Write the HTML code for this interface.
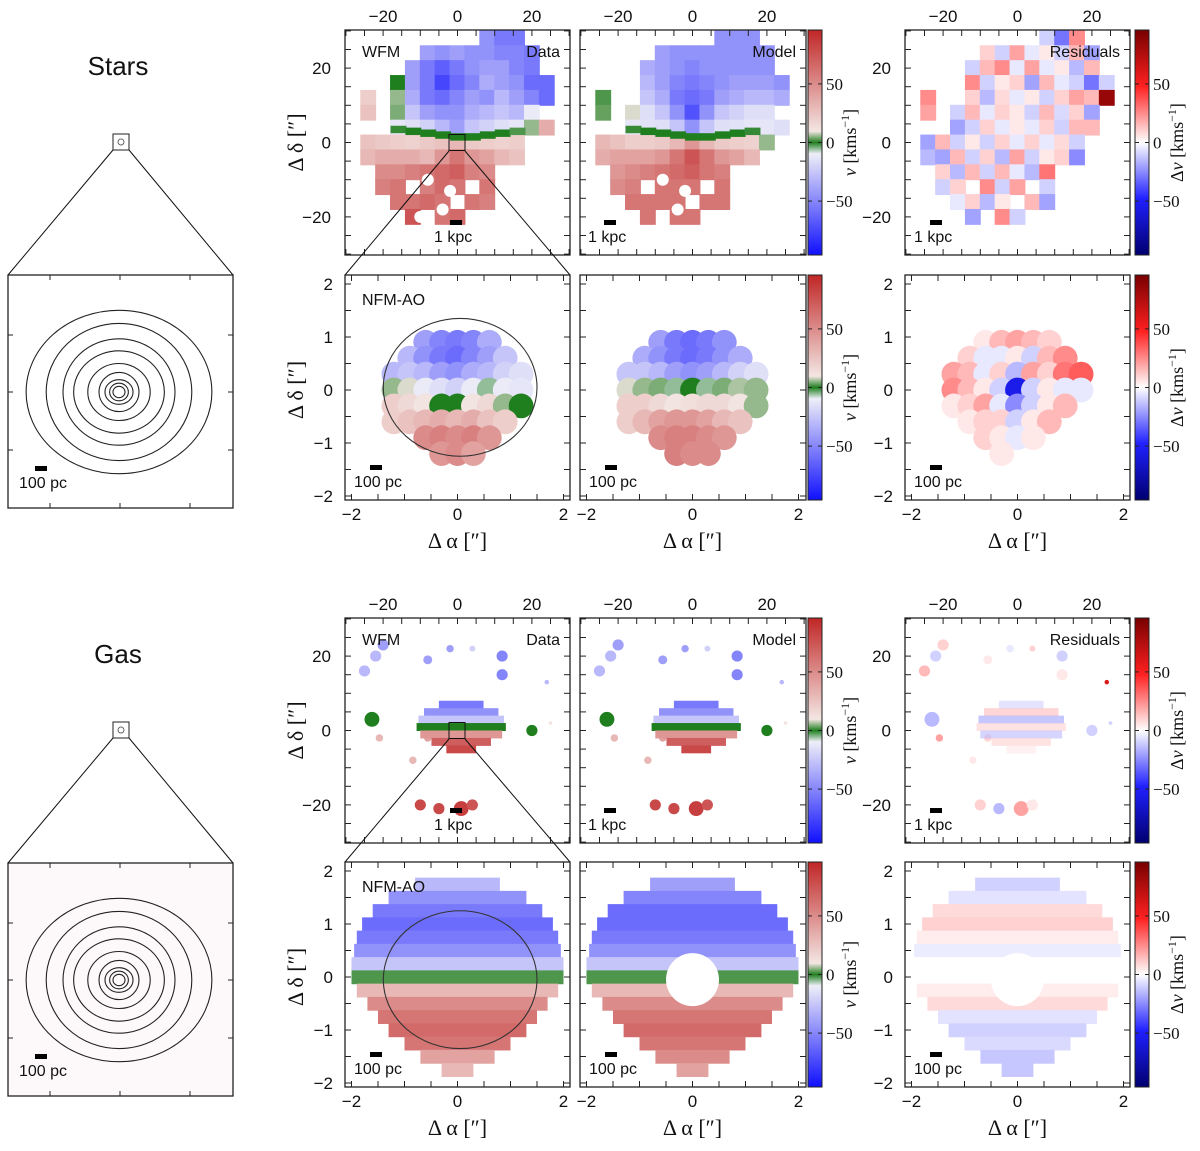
<!DOCTYPE html>
<html><head><meta charset="utf-8">
<style>
html,body{margin:0;padding:0;background:#fff;}
svg{display:block;}
text{font-family:"Liberation Sans","DejaVu Sans",sans-serif;}
.serif{font-family:"Liberation Serif","DejaVu Serif",serif;}
</style></head>
<body>
<svg id="fig" xmlns="http://www.w3.org/2000/svg" width="1200" height="1151" viewBox="0 0 1200 1151">
<defs>
<linearGradient id="cbV" x1="0" y1="1" x2="0" y2="0">
<stop offset="0" stop-color="#1010ff"/><stop offset="0.45" stop-color="#eeeef8"/><stop offset="0.5" stop-color="#1f7f1f"/><stop offset="0.55" stop-color="#f3e6e3"/><stop offset="1" stop-color="#c02626"/>
</linearGradient>
<linearGradient id="cbR" x1="0" y1="1" x2="0" y2="0">
<stop offset="0" stop-color="#000070"/><stop offset="0.25" stop-color="#2020ff"/><stop offset="0.5" stop-color="#ffffff"/><stop offset="0.75" stop-color="#ff2020"/><stop offset="1" stop-color="#780000"/>
</linearGradient>
</defs>
</svg>
<script>
// ---------------- data ----------------
const wfmGridX = [-24,-20,-16,-12,-8,-4,0,4,8,12,16,20,24];
const starWfmRowsY = [28,24,20,16,12,8,4,0,-4,-8,-12,-16,-20];
const starWfmData = [
 [null,null,null,null,null,null,null,null,-45,-55,-55,null,null],
 [null,null,null,null,-40,-45,-40,-45,-45,-50,-50,-55,null],
 [null,null,null,-40,-55,-65,-55,-45,-40,-40,-50,-55,null],
 [null,null,0,-40,-55,-75,-60,-50,-35,-40,-45,-60,-60],
 [20,null,5,-35,-55,-60,-50,-40,-45,-30,-40,-50,-60],
 [25,null,4,-25,-40,-45,-45,-35,-30,-25,-30,-10,null],
 [null,null,-12,-15,-20,-30,-40,-25,-20,-15,-12,5,35],
 [25,22,20,18,22,25,30,22,20,18,20,null,null],
 [30,35,35,35,30,45,60,45,40,30,25,null,null],
 [null,50,50,55,60,65,70,55,50,null,null,null,null],
 [null,55,60,null,55,65,60,null,60,null,null,null,null],
 [null,null,60,60,65,60,null,60,55,null,null,null,null],
 [null,null,null,75,null,60,65,null,null,null,null,null,null]
];
const starWfmModel = [
 [null,null,null,null,null,null,null,null,-45,-45,-45,null,null],
 [null,null,null,null,-40,-45,-45,-45,-45,-45,-45,-45,null],
 [null,null,null,-35,-40,-45,-50,-45,-45,-45,-45,-45,null],
 [null,null,null,-30,-40,-50,-55,-50,-45,-40,-40,-40,-45],
 [2,null,null,-25,-35,-55,-60,-55,-40,-35,-30,-30,-35],
 [3,null,8,-15,-25,-45,-70,-45,-25,-20,-15,-15,null],
 [null,null,-12,-14,-15,-25,-45,-25,-15,-14,-12,-12,-15],
 [30,25,20,20,22,30,45,30,22,20,18,5,null],
 [35,40,40,40,45,60,75,60,45,40,30,null,null],
 [null,45,50,55,60,65,70,60,55,null,null,null,null],
 [null,50,55,null,60,60,60,null,60,null,null,null,null],
 [null,null,60,60,60,60,null,60,60,null,null,null,null],
 [null,null,null,60,null,60,60,null,null,null,null,null,null]
];
const starWfmResid = [
 [null,null,null,null,null,null,null,null,-10,-30,25,null,null],
 [null,null,null,null,10,-10,20,-5,5,-10,15,-20,null],
 [null,null,null,-10,15,25,-5,20,-5,5,-15,15,null],
 [null,null,null,25,-10,5,10,-20,15,-5,-10,-30,-10],
 [25,null,null,10,-15,8,-5,5,-10,10,20,15,85],
 [20,null,-10,15,-5,10,5,-10,15,-8,10,-20,null],
 [null,null,-20,-10,10,-5,5,-5,10,-10,15,15,null],
 [-20,15,-10,5,-10,10,-5,10,-5,8,-10,null,null],
 [-15,-20,15,-10,10,-15,20,-10,5,10,-25,null,null],
 [null,10,-15,15,-10,15,-5,-15,30,null,null,null,null],
 [null,-10,10,null,25,-10,20,null,-10,null,null,null,null],
 [null,null,-5,10,-15,5,null,15,-20,null,null,null,null],
 [null,null,null,-20,null,25,-10,null,null,null,null,null,null]
];
// thin green band near the kinematic minor axis (stars WFM)
const bandX = [-16,-12,-8,-4,0,4,8,12,16];
const bandY = [3.5,3,2.5,2,1.5,1.5,2,2.5,3];
const bandV = [1,0,0,0,0,0,0,0,2];
const bandModelV = [1,0,0,0,0,0,0,0,1];
const nfmGridX = [-1.2,-0.9,-0.6,-0.3,0,0.3,0.6,0.9,1.2];
const starNfmRowsY = [0.9,0.6,0.3,0,-0.3,-0.6,-0.9,-1.2];
const starNfmData = [
 [null,null,-40,-50,-55,-50,-35,null,null],
 [null,-30,-45,-55,-60,-50,-40,-25,null],
 [-30,-25,-30,-40,-45,-35,-30,-20,-15],
 [5,8,-10,-15,-20,-10,-5,-10,-12],
 [20,15,10,0,0,10,15,5,0],
 [20,25,30,35,30,35,25,20,null],
 [null,null,50,55,50,55,45,null,null],
 [null,null,null,45,50,40,null,null,null]
];
const starNfmModel = [
 [null,null,-40,-55,-60,-55,-45,null,null],
 [null,-35,-45,-55,-60,-55,-45,-35,null],
 [-25,-25,-30,-40,-45,-40,-30,-20,-15],
 [8,5,4,-5,0,-5,4,6,5],
 [20,20,15,10,12,15,15,10,5],
 [20,30,40,45,45,40,30,25,null],
 [null,null,50,55,55,50,45,null,null],
 [null,null,null,55,50,50,null,null,null]
];
const starNfmResid = [
 [null,null,5,15,20,15,10,null,null],
 [null,10,-5,-5,5,-10,15,25,null],
 [20,15,-5,10,-15,20,10,30,35],
 [25,15,5,-10,-55,-10,5,-5,-5],
 [5,10,20,-5,-25,-10,5,15,null],
 [null,5,10,10,-10,5,15,null,null],
 [null,null,10,5,-5,5,null,null,null],
 [null,null,null,5,null,null,null,null,null]
];
// gas WFM clumps (arcsec, km/s)
const gasClumpX = [-20,-22,-25,-8,-2,4,12,12,-23,-21,-8,-12,20,24,25,-10,-5,1,4];
const gasClumpY = [23,20,16,19,22,22,20,15,3,-2,-2,-8,0,13,2,-20,-21,-21,-20];
const gasClumpV = [-40,-30,-30,-40,-40,-20,-50,-50,0,30,40,30,0,-30,10,80,80,85,75];
const gasClumpResid = [10,-10,15,5,-5,10,-10,5,-15,20,10,5,-10,60,-10,10,-15,20,5];
const gasClumpR = [1.5,1.5,1.5,1.2,1,0.8,1.5,1.5,2,1,1,1,1.5,0.6,0.5,1.5,1.5,2,1.5];
const gasDiskY = [7,5,3,1,-1,-3,-5];
const gasDiskV = [-55,-45,-25,0,45,70,80];
const gasDiskResid = [-10,15,-20,10,-15,10,5];
const gasDiskHW = [6,10,11.5,12,11,8,4];
// gas NFM rows
const gasNfmY = [1.75,1.5,1.25,1.0,0.75,0.5,0.25,0,-0.25,-0.5,-0.75,-1,-1.25,-1.5,-1.75];
const gasNfmV = [-30,-45,-55,-60,-55,-45,-25,2,30,50,60,65,60,40,30];
const gasNfmModelV = [-40,-50,-60,-60,-55,-45,-25,2,30,50,60,65,60,50,40];
const gasNfmResid = [-10,-6,8,10,4,-4,0,0,4,8,-6,-10,-8,-12,-12];
const gasNfmHW = [0.8,1.3,1.6,1.8,1.9,1.95,2,2,1.9,1.7,1.5,1.3,1.0,0.7,0.3];
const contourR = [6,9,13,20,30,42,56,70,86];
// tick labels
const wfmTicks = [-20,0,20];
const nfmTicks = [-2,-1,0,1,2];
const nfmXTicks = [-2,0,2];
const cbTicks = [50,0,-50];

// ---------------- helpers ----------------
const svg = document.getElementById('fig');
const NS = 'http://www.w3.org/2000/svg';
function mk(tag, attrs, parent){ const e=document.createElementNS(NS,tag); for(const k in attrs) e.setAttribute(k,attrs[k]); (parent||svg).appendChild(e); return e; }
function lerp(a,b,t){return a+(b-a)*t;}
function hex(h){return [parseInt(h.slice(1,3),16),parseInt(h.slice(3,5),16),parseInt(h.slice(5,7),16)];}
function cmap(stops, v){
  if(v<=stops[0][0]) return 'rgb('+hex(stops[0][1])+')';
  for(let i=1;i<stops.length;i++){ if(v<=stops[i][0]){ const t=(v-stops[i-1][0])/(stops[i][0]-stops[i-1][0]); const a=hex(stops[i-1][1]),b=hex(stops[i][1]); return 'rgb('+[0,1,2].map(j=>Math.round(lerp(a[j],b[j],t))).join(',')+')'; } }
  return 'rgb('+hex(stops[stops.length-1][1])+')';
}
const vStops=[[-96,'#1010ff'],[-9,'#eeeef8'],[0,'#1f7f1f'],[9,'#f3e6e3'],[96,'#c02626']];
const rStops=[[-96,'#000070'],[-48,'#2020ff'],[0,'#ffffff'],[48,'#ff2020'],[96,'#780000']];
const colV = v=>cmap(vStops,v), colR = v=>cmap(rStops,v);

const cols=[{x:345,w:225,cx:457.5},{x:580,w:226,cx:692.5},{x:905,w:225,cx:1017.5}];
const sec=[0,588];
const WK=3.72, NK=53;

function panel(name, px, py, w, h){
  const g=mk('g',{});
  
  
  const clip=mk('clipPath',{id:'c'+name},svg.querySelector('defs'));
  mk('rect',{x:px,y:py,width:w,height:h},clip);
  const inner=mk('g',{'clip-path':'url(#c'+name+')'},g);
  return {g,inner};
}
function frame(g,px,py,w,h,xs,ys){
  mk('rect',{x:px,y:py,width:w,height:h,fill:'none',stroke:'#222','stroke-width':1.3},g);
  xs.forEach(x=>{ mk('line',{x1:x,y1:py,x2:x,y2:py+6,stroke:'#222'},g); mk('line',{x1:x,y1:py+h,x2:x,y2:py+h-6,stroke:'#222'},g); });
  ys.forEach(y=>{ mk('line',{x1:px,y1:y,x2:px+6,y2:y,stroke:'#222'},g); mk('line',{x1:px+w,y1:y,x2:px+w-6,y2:y,stroke:'#222'},g); });
}
function txt(g,x,y,s,attrs){ const t=mk('text',Object.assign({x:x,y:y,'font-size':16,fill:'#111'},attrs||{}),g); t.textContent=s; return t; }

function drawGrid(inner, rowsY, gridX, data, cx, cy, k, step, colf, circle){
  data.forEach((row,ri)=>row.forEach((v,ci)=>{
    if(v===null) return;
    const x=cx+gridX[ci]*k, y=cy-rowsY[ri]*k, s=step*k;
    let e;
    if(circle) e=mk('circle',{cx:x,cy:y,r:s*0.78,fill:colf(v)},inner);
    else e=mk('rect',{x:x-s/2-0.5,y:y-s/2-0.5,width:s+1,height:s+1,fill:colf(v)},inner);
    
    
  }));
}

function colorbar(x,y,h,grad,label){
  const g=mk('g',{});
  
  
  mk('rect',{x:x,y:y,width:14,height:h,fill:'url(#'+grad+')',stroke:'#222','stroke-width':1},g);
  const cyc=y+h/2, kk=h/2/96;
  cbTicks.forEach(v=>{ const ty=cyc-v*kk; mk('line',{x1:x,y1:ty,x2:x+4,y2:ty,stroke:'#222'},g); mk('line',{x1:x+14,y1:ty,x2:x+10,y2:ty,stroke:'#222'},g);
    txt(g,x+18,ty+6,v<0?'\u2212'+(-v):String(v),{class:'serif','font-size':17}); });
  const lx=x+48, ly=cyc;
  const t=txt(g,lx,ly,'',{class:'serif','font-size':18,transform:'rotate(-90 '+lx+' '+ly+')','text-anchor':'middle'});
  t.innerHTML=label;
}

function scalebar(g,x,y,lab){
  mk('rect',{x:x,y:y-2,width:12,height:5,fill:'#000'},g);
  txt(g,x-16,y+20,lab,{'font-size':16});
}

// ---------------- build ----------------
['Stars','Gas'].forEach((name,si)=>{
  const o=sec[si];
  const t=txt(svg,118,75+o,name,{'font-size':26,'text-anchor':'middle'});
  
  
  const ov=mk('g',{});
  
  
  mk('rect',{x:113,y:134+o,width:16,height:16,fill:'none',stroke:'#222'},ov);
  mk('circle',{cx:121,cy:142+o,r:3,fill:'none',stroke:'#666'},ov);
  mk('line',{x1:113,y1:150+o,x2:8,y2:275+o,stroke:'#111'},ov);
  mk('line',{x1:129,y1:150+o,x2:233,y2:275+o,stroke:'#111'},ov);
  const cp=mk('g',{});
  
  
  mk('rect',{x:8,y:275+o,width:225,height:233,fill:si?'#fdf9fa':'#fff',stroke:'#222','stroke-width':1.3},cp);
  contourR.forEach((r,i)=>{
    const c=mk('ellipse',{cx:119,cy:392+o,rx:r*(1+0.04*(i%3)),ry:r*(0.95+0.03*(i%2)),fill:'none',stroke:'#222','stroke-width':1.1},cp);
    
    
  });
  [[50,275],[120,275],[190,275],[50,508],[120,508],[190,508]].forEach(p=>mk('line',{x1:p[0],y1:p[1]+o,x2:p[0],y2:p[1]+o+(p[1]>300?-5:5),stroke:'#222'},cp));
  [[8,335],[8,392],[8,450],[233,335],[233,392],[233,450]].forEach(p=>mk('line',{x1:p[0],y1:p[1]+o,x2:p[0]+(p[0]<100?5:-5),y2:p[1]+o,stroke:'#222'},cp));
  scalebar(cp,35,468+o,'100 pc');

  const rowW=30+o, rowN=(si?862:275);
  cols.forEach((c,ci)=>{
    const kind=['data','model','residuals'][ci];
    const P=panel(name.toLowerCase()+'-wfm-'+kind, c.x,rowW,c.w,225);
    const cy=rowW+112.5;
    const colf=ci===2?colR:colV;
    if(si===0){
      drawGrid(P.inner,starWfmRowsY,wfmGridX,[starWfmData,starWfmModel,starWfmResid][ci],c.cx,cy,WK,4,colf,false);
      if(ci<2){
        const bv=ci===0?bandV:bandModelV;
        bandX.forEach((x,i)=>{ const e=mk('rect',{x:c.cx+(x-2)*WK,y:cy-(bandY[i]+1)*WK,width:4*WK+1,height:2*WK,fill:colV(bv[i])},P.inner);
            });
      }
      if(ci===0){
        [[-8,-10],[-2,-13],[-4,-18],[-10,-20]].forEach(h=>mk('circle',{cx:c.cx+h[0]*WK,cy:cy-h[1]*WK,r:6,fill:'#fff'},P.inner));
      }
      if(ci===1){ [[-8,-10],[-2,-13],[-4,-18]].forEach(h=>mk('circle',{cx:c.cx+h[0]*WK,cy:cy-h[1]*WK,r:6,fill:'#fff'},P.inner)); }
    } else {
      const vals=ci===2?gasClumpResid:gasClumpV;
      gasClumpX.forEach((x,i)=>{ const e=mk('circle',{cx:c.cx+x*WK,cy:cy-gasClumpY[i]*WK,r:gasClumpR[i]*WK,fill:colf(vals[i])},P.inner);
          });
      const dv=ci===2?gasDiskResid:gasDiskV;
      gasDiskY.forEach((y,i)=>{ const e=mk('rect',{x:c.cx+(1-gasDiskHW[i])*WK,y:cy-(y+1)*WK,width:2*gasDiskHW[i]*WK,height:2*WK+0.5,fill:colf(dv[i]),opacity:ci===2?0.6:1},P.inner);
          });
    }
    const xs=[], ys=[];
    for(let v=-30;v<=30;v+=5){ xs.push(c.cx+v*WK); ys.push(cy-v*WK); }
    frame(P.g,c.x,rowW,c.w,225,xs,ys);
    wfmTicks.forEach(v=>txt(svg,c.cx+v*WK,rowW-8,v<0?'\u2212'+(-v):String(v),{'text-anchor':'middle','font-size':17}));
    if(ci===0){ txt(P.g,c.x+17,rowW+27,'WFM'); txt(P.g,c.x+c.w-10,rowW+27,'Data',{'text-anchor':'end'}); scalebar(P.g,450,rowW+192,'1 kpc');
      wfmTicks.forEach(v=>txt(svg,c.x-14,cy-v*WK+6,v<0?'\u2212'+(-v):String(v),{'text-anchor':'end','font-size':17}));
      const yl=txt(svg,303,cy,'',{class:'serif','font-size':22,'text-anchor':'middle',transform:'rotate(-90 303 '+cy+')'}); yl.textContent='\u0394 \u03b4 [\u2033]';
      mk('rect',{x:449,y:cy-8,width:16,height:16,fill:'none',stroke:'#111'},P.g);
    }
    if(ci===1){ txt(P.g,c.x+c.w-10,rowW+27,'Model',{'text-anchor':'end'}); scalebar(P.g,604,rowW+192,'1 kpc'); }
    if(ci===2){ txt(P.g,c.x+c.w-10,rowW+27,'Residuals',{'text-anchor':'end'}); scalebar(P.g,930,rowW+192,'1 kpc');
      wfmTicks.forEach(v=>txt(svg,c.x-14,cy-v*WK+6,v<0?'\u2212'+(-v):String(v),{'text-anchor':'end','font-size':17})); }
  });
  colorbar(808,rowW,225,'cbV','<tspan font-style="italic">v</tspan> [kms<tspan dy="-7" font-size="12">\u22121</tspan><tspan dy="7">]</tspan>');
  colorbar(1135,rowW,225,'cbR','\u0394<tspan font-style="italic">v</tspan> [kms<tspan dy="-7" font-size="12">\u22121</tspan><tspan dy="7">]</tspan>');
  mk('line',{x1:449,y1:rowW+121,x2:345,y2:rowN,stroke:'#111'});
  mk('line',{x1:465,y1:rowW+121,x2:570,y2:rowN,stroke:'#111'});

  cols.forEach((c,ci)=>{
    const kind=['data','model','residuals'][ci];
    const P=panel(name.toLowerCase()+'-nfm-'+kind, c.x,rowN,c.w,225);
    const cy=rowN+115;
    const colf=ci===2?colR:colV;
    if(si===0){
      drawGrid(P.inner,starNfmRowsY,nfmGridX,[starNfmData,starNfmModel,starNfmResid][ci],c.cx,cy,NK,0.3,colf,true);
    } else {
      const vals=[gasNfmV,gasNfmModelV,gasNfmResid][ci];
      gasNfmY.forEach((y,i)=>{ const e=mk('rect',{x:c.cx-gasNfmHW[i]*NK,y:cy-(y+0.125)*NK,width:2*gasNfmHW[i]*NK,height:0.25*NK+0.6,fill:colf(vals[i])},P.inner);
          });
      if(ci>0) mk('circle',{cx:c.cx,cy:cy+0.05*NK,r:0.5*NK,fill:'#fff'},P.inner);
    }
    if(ci===0){
      const ol=mk('ellipse',{cx:c.cx+0.05*NK,cy:cy-(si?-0.05:0.05)*NK,rx:1.45*NK,ry:1.3*NK,fill:'none',stroke:'#333','stroke-width':1.1},P.inner);
       
    }
    const xs=[], ys=[];
    for(let v=-2;v<=2.01;v+=0.5){ xs.push(c.cx+v*NK); ys.push(cy-v*NK); }
    frame(P.g,c.x,rowN,c.w,225,xs,ys);
    scalebar(P.g,c.x+25,rowN+192,'100 pc');
    nfmXTicks.forEach(v=>txt(svg,c.cx+v*NK,rowN+245,v<0?'\u2212'+(-v):String(v),{'text-anchor':'middle','font-size':17}));
    const xl=txt(svg,c.cx,rowN+273,'\u0394 \u03b1 [\u2033]',{class:'serif','font-size':22,'text-anchor':'middle'});
     
    if(ci!==1) nfmTicks.forEach(v=>txt(svg,c.x-12,cy-v*NK+6,v<0?'\u2212'+(-v):String(v),{'text-anchor':'end','font-size':17}));
    if(ci===0){ txt(P.g,c.x+17,rowN+30,'NFM-AO');
      const yl=txt(svg,303,cy,'',{class:'serif','font-size':22,'text-anchor':'middle',transform:'rotate(-90 303 '+cy+')'}); yl.textContent='\u0394 \u03b4 [\u2033]'; }
  });
  colorbar(808,rowN,225,'cbV','<tspan font-style="italic">v</tspan> [kms<tspan dy="-7" font-size="12">\u22121</tspan><tspan dy="7">]</tspan>');
  colorbar(1135,rowN,225,'cbR','\u0394<tspan font-style="italic">v</tspan> [kms<tspan dy="-7" font-size="12">\u22121</tspan><tspan dy="7">]</tspan>');
});
</script>
</body></html>
